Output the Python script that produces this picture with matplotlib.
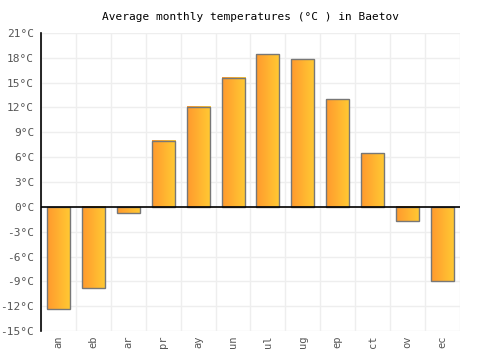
import matplotlib
matplotlib.use("Agg")
import matplotlib.pyplot as plt
import numpy as np
from matplotlib.colors import LinearSegmentedColormap

months = ["an", "eb", "ar", "pr", "ay", "un", "ul", "ug", "ep", "ct", "ov", "ec"]
temps = [-12.3, -9.8, -0.7, 8.0, 12.1, 15.6, 18.4, 17.8, 13.0, 6.5, -1.7, -8.9]
yticks = [-15, -12, -9, -6, -3, 0, 3, 6, 9, 12, 15, 18, 21]
title = "Average monthly temperatures (°C ) in Baetov"

plt.rcParams['font.family'] = ['DejaVu Sans Mono']
fig = plt.figure(figsize=(5, 3.5), dpi=100)
ax = fig.add_axes([0.082, 0.054, 0.838, 0.852])

cmap = LinearSegmentedColormap.from_list("g", ["#FF9A2E", "#FFCA33"])
grad = np.linspace(0, 1, 64).reshape(1, -1)
w = 0.66
x = np.arange(len(months))
for xi, t in zip(x, temps):
    ax.imshow(grad, cmap=cmap, aspect='auto', extent=(xi - w/2, xi + w/2, min(0, t), max(0, t)), zorder=2)
ax.bar(x, temps, width=w, facecolor='none', edgecolor='#777777', linewidth=1.0, zorder=3)

ax.set_xlim(-0.5, len(months) - 0.5)
ax.set_ylim(-15, 21)
ax.set_yticks(yticks)
ax.set_yticklabels([f"{v}°C" for v in yticks], fontsize=8, color='#555555')
ax.set_xticks(x)
ax.set_xticklabels(months, rotation=90, fontsize=7.5, color='#555555')
ax.set_xticks(np.arange(-0.5, len(months), 1), minor=True)
ax.grid(True, which='minor', axis='x', color='#eeeeee', linewidth=1, zorder=0)
ax.grid(True, which='major', axis='y', color='#eeeeee', linewidth=1, zorder=0)
ax.tick_params(axis='y', which='both', length=0, pad=5)
ax.tick_params(axis='x', which='both', length=0, pad=3)
ax.axhline(0, color='black', linewidth=1.2, zorder=4)
for s in ['top', 'right', 'bottom']:
    ax.spines[s].set_visible(False)
ax.spines['left'].set_color('black')
ax.spines['left'].set_linewidth(1.2)
ax.set_axisbelow(True)
fig.text(0.5, 0.952, title, ha='center', va='center', fontsize=8, color='black')
fig.savefig("out.png", dpi=100)
